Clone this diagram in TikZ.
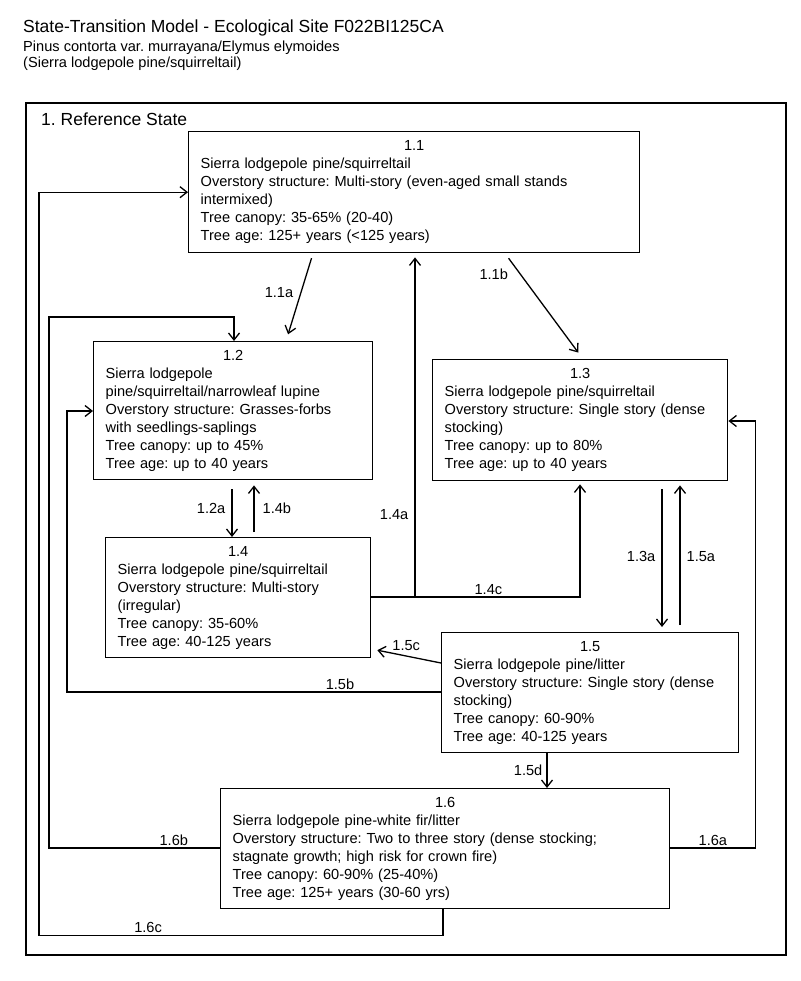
\documentclass[tikz,border=0pt]{standalone}
\usepackage{fontspec}
\setmainfont{Liberation Sans}
\usepackage{tikz}
\usetikzlibrary{positioning}
\usetikzlibrary{arrows.meta}

\tikzset{
	statebox/.style={draw,line width=1.4pt,anchor=north west,inner xsep=12pt,inner ysep=0pt,align=left,font=\fontsize{14.6}{18}\selectfont},
	trans/.style={line width=1.3pt,-{Straight Barb[length=7pt,width=11pt,line width=1.3pt]}},
	lbl/.style={font=\fontsize{14.6}{18}\selectfont,inner sep=2pt},
	heading/.style={anchor=base west,inner sep=0pt,font=\fontsize{17.5}{20}\selectfont},
	subheading/.style={anchor=base west,inner sep=0pt,font=\fontsize{14.6}{17}\selectfont}
}

\begin{document}
\frenchspacing
\begin{tikzpicture}[x=1pt,y=-1pt]
		\useasboundingbox (0,0) rectangle (800,981);
		\node[heading] (title) at (23,33) {State-Transition Model - Ecological Site F022BI125CA};
		\node[subheading] (sci) at (23,52) {Pinus contorta var. murrayana/Elymus elymoides};
		\node[subheading] (common) at (23,68) {(Sierra lodgepole pine/squirreltail)};
		
		\draw[line width=2.2pt] (26,103) rectangle (786,955);
		\node[heading] (refstate) at (41,126) {1. Reference State};
		
		% states
		\node[statebox,text width=427pt,minimum height=121pt] (s11) at (188,131) {\centerline{1.1}
			Sierra lodgepole pine/squirreltail\\
			Overstory structure: Multi-story (even-aged small stands\\
			intermixed)\\
			Tree canopy: 35-65\% (20-40)\\
			Tree age: 125+ years (<125 years)};
		\node[statebox,text width=255pt,minimum height=138pt] (s12) at (93,341) {\centerline{1.2}
			Sierra lodgepole\\
			pine/squirreltail/narrowleaf lupine\\
			Overstory structure: Grasses-forbs\\
			with seedlings-saplings\\
			Tree canopy: up to 45\%\\
			Tree age: up to 40 years};
		\node[statebox,text width=271pt,minimum height=121pt] (s13) at (432,359) {\centerline{1.3}
			Sierra lodgepole pine/squirreltail\\
			Overstory structure: Single story (dense\\
			stocking)\\
			Tree canopy: up to 80\%\\
			Tree age: up to 40 years};
		\node[statebox,text width=241pt,minimum height=120pt] (s14) at (105,537) {\centerline{1.4}
			Sierra lodgepole pine/squirreltail\\
			Overstory structure: Multi-story\\
			(irregular)\\
			Tree canopy: 35-60\%\\
			Tree age: 40-125 years};
		\node[statebox,text width=273pt,minimum height=120pt] (s15) at (441,632) {\centerline{1.5}
			Sierra lodgepole pine/litter\\
			Overstory structure: Single story (dense\\
			stocking)\\
			Tree canopy: 60-90\%\\
			Tree age: 40-125 years};
		\node[statebox,text width=425pt,minimum height=120pt] (s16) at (220,788) {\centerline{1.6}
			Sierra lodgepole pine-white fir/litter\\
			Overstory structure: Two to three story (dense stocking;\\
			stagnate growth; high risk for crown fire)\\
			Tree canopy: 60-90\% (25-40\%)\\
			Tree age: 125+ years (30-60 yrs)};
		
		% transitions
		\draw[trans,shorten <=5pt,shorten >=7pt] ([xshift=125pt]s11.south west) -- node[lbl,pos=.45,left=5pt]{1.1a} ([xshift=193pt]s12.north west);
		\draw[trans,shorten <=6pt,shorten >=8pt] ([xshift=317pt]s11.south west) -- node[lbl,pos=.2,left=10pt]{1.1b} ([xshift=151pt]s13.north west);
		\draw[trans,shorten <=9pt] ([xshift=139pt]s12.south west) -- node[lbl,midway,left=4pt]{1.2a} ([xshift=127pt]s14.north west);
		\draw[trans,shorten <=5pt,shorten >=5pt] ([xshift=149pt]s14.north west) -- node[lbl,midway,right=6pt]{1.4b} ([xshift=161pt]s12.south west);
		\draw[trans,shorten <=8pt,shorten >=5pt] ([xshift=230pt]s13.south west) -- node[lbl,midway,left=4pt]{1.3a} ([xshift=221pt]s15.north west);
		\draw[trans,shorten <=7pt,shorten >=4pt] ([xshift=239pt]s15.north west) -- node[lbl,midway,right=4pt]{1.5a} ([xshift=248pt]s13.south west);
		\draw[trans,shorten >=4pt] ([yshift=-60pt]s14.north east) -| node[lbl,pos=.62,left=4pt]{1.4a} ([xshift=227pt]s11.south west);
		\draw[trans,shorten >=3pt] ([xshift=45pt,yshift=-60pt]s14.north east) -| node[lbl,pos=.22,above]{1.4c} ([xshift=148pt]s13.south west);
		\draw[trans,shorten >=6pt] ([yshift=-31pt]s15.north west) -- node[lbl,midway,above=3pt]{1.5c} ([yshift=-112pt]s14.north east);
		\draw[trans] ([yshift=-60pt]s15.north west) -- node[lbl,pos=.27,above]{1.5b} ++(-374,0) |- ([yshift=-70pt]s12.north west);
		\draw[trans] ([xshift=106pt]s15.south west) -- node[lbl,midway,left=2pt]{1.5d} ([xshift=327pt]s16.north west);
		\draw[trans] ([yshift=-60pt]s16.north east) -- node[lbl,midway,above]{1.6a} ++(85,0) |- ([yshift=-62pt]s13.north east);
		\draw[trans] ([yshift=-60pt]s16.north west) -- node[lbl,pos=.27,above]{1.6b} ++(-171,0) -- ++(0,-531) -| ([xshift=141pt]s12.north west);
		\draw[trans] ([xshift=223pt]s16.south west) -- ++(0,26) -- node[lbl,pos=.73,above]{1.6c} ++(-404,0) |- (s11.west);
	\end{tikzpicture}
\end{document}
